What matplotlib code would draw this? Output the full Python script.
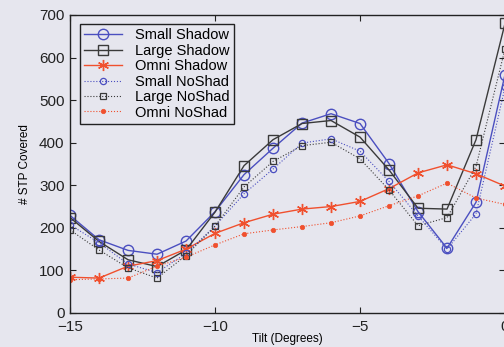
import matplotlib
matplotlib.use("Agg")
import matplotlib.pyplot as plt

plt.rcParams['font.family'] = ['Liberation Sans', 'DejaVu Sans']

tilt = [-15, -14, -13, -12, -11, -10, -9, -8, -7, -6, -5, -4, -3, -2, -1, 0]

small_shadow = [229, 172, 147, 138, 169, 238, 325, 387, 446, 468, 445, 351, 238, 152, 260, 560]
large_shadow = [224, 168, 125, 109, 148, 237, 346, 407, 445, 452, 413, 336, 246, 244, 407, 680]
omni_shadow = [84, 82, 110, 123, 150, 187, 212, 232, 244, 250, 262, 292, 329, 348, 327, 298]
small_noshad = [207, 165, 115, 95, 140, 204, 280, 338, 399, 409, 380, 309, 228, 150, 233, 530]
large_noshad = [195, 148, 106, 82, 135, 204, 296, 356, 393, 401, 362, 289, 205, 224, 344, 620]
omni_noshad = [78, 80, 82, 110, 131, 160, 186, 195, 203, 212, 228, 252, 275, 305, 270, 255]

bg = '#e6e6ee'
blue = '#4b4fc0'
black = '#3a3a3a'
red = '#f0502e'
asterisk = (6, 2, 0)

fig = plt.figure(figsize=(5.04, 3.47), dpi=100, facecolor=bg)
ax = fig.add_axes([0.139, 0.098, 0.863, 0.859], facecolor=bg)

ax.plot(tilt, small_shadow, '-o', color=blue, lw=1.0, ms=7.5, mfc='none', mew=1.0, label='Small Shadow')
ax.plot(tilt, large_shadow, '-s', color=black, lw=1.0, ms=7.5, mfc='none', mew=1.0, label='Large Shadow')
ax.plot(tilt, omni_shadow, '-', marker=asterisk, color=red, lw=1.0, ms=8, mew=1.0, label='Omni Shadow')
ax.plot(tilt, small_noshad, ':o', color=blue, lw=0.8, ms=4.5, mfc='none', mew=0.9, label='Small NoShad')
ax.plot(tilt, large_noshad, ':s', color=black, lw=0.8, ms=4.0, mfc='none', mew=0.9, label='Large NoShad')
ax.plot(tilt, omni_noshad, ':o', color=red, lw=0.8, ms=3.2, mew=0.5, label='Omni NoShad')

ax.set_xlim(-15, 0)
ax.set_ylim(0, 700)
ax.set_xticks([-15, -10, -5, 0])
ax.set_yticks(range(0, 701, 100))
ax.tick_params(direction='in', length=4, width=0.8, top=True, right=True,
               labelsize=11, colors='#222222')
ax.tick_params(axis='x', pad=5)
ax.tick_params(axis='y', pad=4)
for s in ax.spines.values():
    s.set_linewidth(1.0)
    s.set_color('#222222')

ax.set_xlabel('Tilt (Degrees)', fontsize=8.5, labelpad=-1)
ax.set_ylabel('# STP Covered', fontsize=8.5, labelpad=6)

leg = ax.legend(loc='upper left', bbox_to_anchor=(0.023, 0.97), borderaxespad=0,
                fontsize=10.5, frameon=True, fancybox=False, edgecolor='#222222',
                facecolor=bg, framealpha=1, handlelength=2.6, labelspacing=0.1,
                handletextpad=0.9, borderpad=0.3)
leg.get_frame().set_linewidth(1.0)

fig.savefig('out.png', dpi=100, facecolor=bg)
